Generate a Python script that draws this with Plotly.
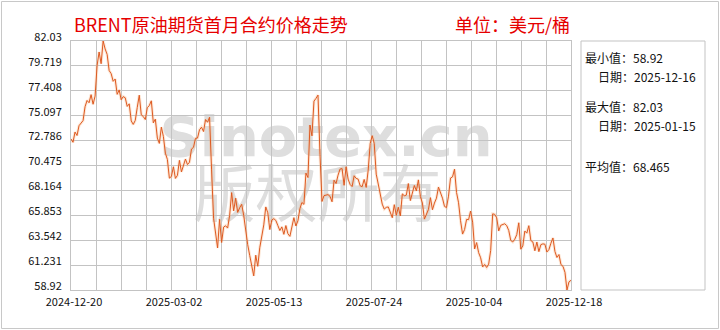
import plotly.graph_objects as go
import pandas as pd

# ---------------- data ----------------
holidays = ["2024-12-25", "2025-01-01", "2025-01-20", "2025-02-17", "2025-04-18",
            "2025-05-26", "2025-06-19", "2025-07-04", "2025-09-01", "2025-11-27"]
dates = [d.strftime("%Y-%m-%d") for d in pd.bdate_range("2024-12-20", "2025-12-18")
         if d.strftime("%Y-%m-%d") not in holidays]

p_2024_12 = [72.94, 72.63, 73.58, 73.26, 74.17, 74.39, 74.64]
p_2025_01 = [75.93, 76.51, 76.30, 77.05, 76.16, 76.92, 79.76, 81.01, 79.92, 82.03, 81.29,
             80.79, 79.29, 79.00, 78.29, 78.50, 77.08, 77.49, 76.58, 76.87, 76.76]
p_2025_02 = [75.96, 76.20, 74.61, 74.29, 74.66, 75.87, 77.00, 75.18, 75.02, 74.74, 75.84,
             76.04, 76.48, 74.43, 74.78, 73.02, 72.53, 74.04, 73.18]
p_2025_03 = [71.62, 71.04, 69.30, 69.46, 70.36, 69.28, 69.56, 70.95, 69.88, 70.58, 71.07,
             70.56, 70.78, 72.00, 72.16, 73.00, 73.02, 73.79, 74.03, 73.63, 74.74]
p_2025_04 = [74.49, 74.95, 70.14, 65.58, 64.21, 62.82, 65.48, 63.33, 64.76, 64.88, 64.67,
             65.85, 67.96, 66.26, 67.44, 66.12, 66.55, 66.87, 65.86, 64.25, 63.12]
p_2025_05 = [62.13, 61.29, 60.23, 62.15, 61.12, 62.84, 63.91, 64.96, 66.63, 66.09, 64.53,
             65.41, 65.54, 65.38, 64.91, 64.44, 64.78, 64.09, 64.90, 64.15, 63.90]
p_2025_06 = [64.63, 65.63, 64.86, 65.34, 66.47, 67.04, 66.87, 69.77, 69.36, 74.23, 73.23,
             76.45, 76.70, 77.01, 71.48, 67.14, 67.68, 67.73, 67.77, 67.61]
p_2025_07 = [67.11, 69.11, 68.80, 69.58, 70.15, 70.19, 68.64, 70.36, 69.21, 68.71, 68.52,
             69.52, 69.28, 69.21, 68.59, 68.51, 69.18, 68.44, 70.04, 72.51, 73.24, 72.53]
p_2025_08 = [69.67, 68.76, 67.64, 66.89, 66.43, 66.59, 66.63, 66.12, 65.63, 66.84, 65.85,
             66.60, 65.79, 67.84, 67.67, 67.73, 68.80, 67.22, 68.05, 68.62, 68.12]
p_2025_09 = [69.14, 67.60, 66.99, 65.50, 66.02, 66.39, 67.49, 66.37, 66.99, 67.44, 68.47,
             67.95, 67.44, 66.68, 66.57, 67.63, 69.31, 69.42, 70.13, 67.97, 67.02]
p_2025_10 = [65.35, 64.11, 64.53, 65.47, 65.45, 66.25, 65.22, 62.73, 63.32, 62.39, 61.91,
             61.06, 61.29, 61.01, 61.32, 62.59, 65.99, 65.94, 65.62, 64.40, 64.92, 65.00, 65.07]
p_2025_11 = [64.89, 64.44, 63.52, 63.38, 63.63, 64.06, 65.16, 62.71, 63.01, 64.39, 64.20,
             64.89, 63.51, 63.38, 62.56, 63.37, 62.48, 63.13, 63.20]
p_2025_12 = [63.17, 62.45, 62.67, 63.26, 63.75, 62.49, 61.94, 62.21, 61.28, 61.12, 60.56,
             58.92, 59.68, 59.82]

prices = (p_2024_12 + p_2025_01 + p_2025_02 + p_2025_03 + p_2025_04 + p_2025_05 + p_2025_06
          + p_2025_07 + p_2025_08 + p_2025_09 + p_2025_10 + p_2025_11 + p_2025_12)
assert len(prices) == len(dates)

x_tick_labels = ["2024-12-20", "2025-03-02", "2025-05-13", "2025-07-24", "2025-10-04", "2025-12-18"]
y_tick_labels = ["58.92", "61.231", "63.542", "65.853", "68.164", "70.475",
                 "72.786", "75.097", "77.408", "79.719", "82.03"]

title_text = "BRENT原油期货首月合约价格走势"
unit_text = "单位：美元/桶"
stats_lines = [("最小值：58.92", 0), ("日期：2025-12-16", 1),
               ("最大值：82.03", 0), ("日期：2025-01-15", 1),
               ("平均值：68.465", 0)]
watermark_1 = "Sinotex.cn"
watermark_2 = "版权所有"

# ---------------- figure ----------------
n = len(prices)
idx = list(range(n))
grid_vals = [k * (n - 1) / 20 for k in range(21)]
grid_text = [x_tick_labels[k // 4] if k % 4 == 0 else "" for k in range(21)]
y_vals = [float(v) for v in y_tick_labels]

CJK = "Noto Sans CJK SC"
W, H = 720, 330
L, R, T, B = 71, 149, 41, 40
PW, PH = W - L - R, H - T - B


def px(xp):
    return (xp - L) / PW


def py(yp):
    return (H - B - yp) / PH


fig = go.Figure()
fig.add_trace(go.Scatter(x=idx, y=prices, mode="lines", hoverinfo="skip",
                         line=dict(color="rgba(250,175,120,0.30)", width=3)))
fig.add_trace(go.Scatter(x=idx, y=prices, mode="lines", text=dates,
                         line=dict(color="#de5a22", width=1)))

grid = "#c3c3c3"
fig.update_xaxes(range=[0, n - 1], tickmode="array", tickvals=grid_vals, ticktext=grid_text,
                 showgrid=True, gridcolor=grid, gridwidth=1, zeroline=False,
                 showline=True, linecolor=grid, mirror=True, ticks="",
                 ticklabelshift=3, ticklabelstandoff=2,
                 tickfont=dict(family=CJK, size=11, color="#111"))
fig.update_yaxes(range=[y_vals[0], y_vals[-1]], tickmode="array", tickvals=y_vals,
                 ticktext=y_tick_labels, showgrid=True, gridcolor=grid, gridwidth=1,
                 zeroline=False, showline=True, linecolor=grid, mirror=True, ticks="",
                 ticklabelshift=-4, ticklabelstandoff=6,
                 tickfont=dict(family=CJK, size=11, color="#111"))

shapes = [
    # watermarks (below the data)
    dict(type="rect", xref="paper", yref="paper", x0=px(158), x1=px(494), y0=py(160), y1=py(104),
         line=dict(width=0), fillcolor="rgba(0,0,0,0)", layer="below",
         label=dict(text=watermark_1, textposition="middle center",
                    font=dict(family="DejaVu Sans", size=56, color="#dedede", weight="bold"))),
    dict(type="rect", xref="paper", yref="paper", x0=px(190), x1=px(445), y0=py(230), y1=py(170),
         line=dict(width=0), fillcolor="rgba(0,0,0,0)", layer="below",
         label=dict(text=watermark_2, textposition="middle center",
                    font=dict(family=CJK, size=62, color="#dedede"))),
    # right info box
    dict(type="rect", xref="paper", yref="paper", x0=px(581), x1=px(705), y0=0, y1=1,
         line=dict(color=grid, width=1), fillcolor="rgba(0,0,0,0)"),
    # outer frame
    dict(type="rect", xref="paper", yref="paper", x0=px(1.5), x1=px(718.5), y0=py(328.5), y1=py(1.5),
         line=dict(color="#c8c8c8", width=1), fillcolor="rgba(0,0,0,0)"),
]

annotations = [
    dict(text=title_text, xref="paper", yref="paper", x=px(72), y=py(24), xanchor="left",
         yanchor="middle", showarrow=False, font=dict(family=CJK, size=18, color="#e60000")),
    dict(text=unit_text, xref="paper", yref="paper", x=px(572), y=py(24), xanchor="right",
         yanchor="middle", showarrow=False, font=dict(family=CJK, size=18, color="#e60000")),
]
stat_y = [57, 76, 106, 125, 166]
for (txt, indent), yy in zip(stats_lines, stat_y):
    annotations.append(dict(text=txt, xref="paper", yref="paper", x=px(583 + 13 * indent), y=py(yy),
                            xanchor="left", yanchor="middle", showarrow=False,
                            font=dict(family=CJK, size=12, color="#111")))

fig.update_layout(width=W, height=H, margin=dict(l=L, r=R, t=T, b=B, pad=0),
                  paper_bgcolor="white", plot_bgcolor="white", showlegend=False,
                  shapes=shapes, annotations=annotations,
                  font=dict(family=CJK, size=11, color="#111"))

fig.write_html("out.html")
